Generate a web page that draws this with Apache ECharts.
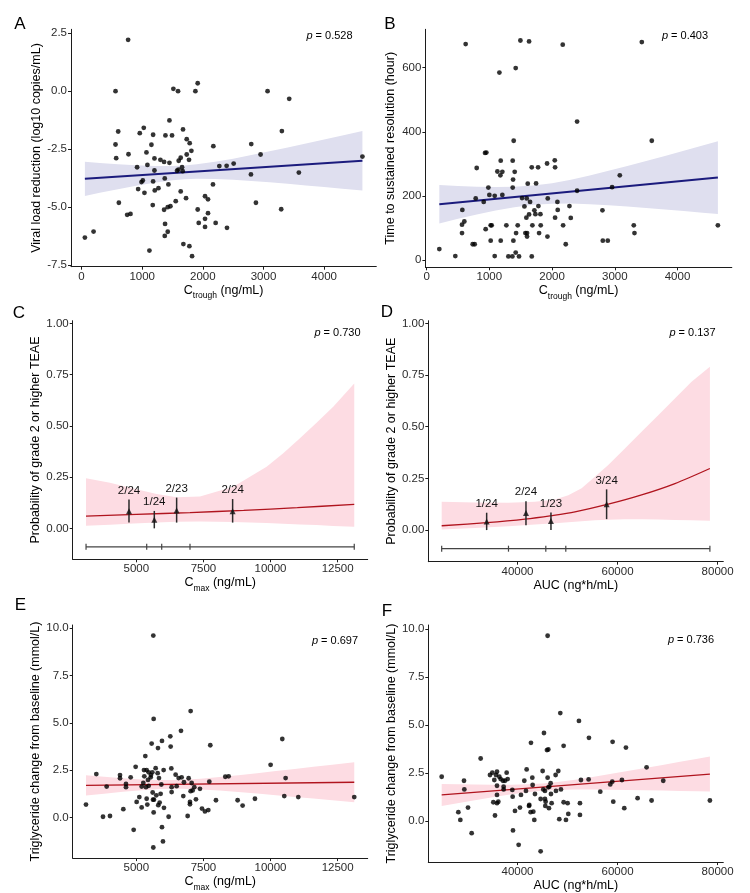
<!DOCTYPE html>
<html>
<head>
<meta charset="utf-8">
<script src="https://cdn.jsdelivr.net/npm/echarts@6/dist/echarts.min.js"></script>
<style>
html, body { margin: 0; padding: 0; background: #fff; }
#chart { width: 750px; height: 893px; }
</style>
</head>
<body>
<div id="chart"></div>
<script>
// ---- Panel A: Ctrough vs viral load reduction ----
const aCtrough = [55,198,560,560,571,604,615,774,768,752,
    807,916,933,960,988,1010,1026,1037,1070,1086,
    1119,1152,1180,1180,1174,1202,1202,1207,1268,1300,
    1361,1372,1361,1377,1372,1383,1421,1421,1432,1449,
    1449,1465,1492,1514,1553,1591,1575,1597,1602,1635,
    1635,1657,1668,1673,1679,1723,1734,1734,1772,1778,
    1783,1811,1822,1877,1915,1915,1932,2036,2036,2036,
    2085,2085,2167,2173,2211,2272,2392,2398,2508,2798,
    2793,2875,2952,3067,3292,3303,3424,3583,4631];
const aViral = [-6.31,-6.05,0.0,-2.30,-2.89,-1.74,-4.81,-2.72,2.21,-5.33,
    -5.29,-3.28,-4.22,-1.81,-3.92,-3.85,-1.58,-4.38,-2.64,-3.18,
    -6.87,-2.31,-1.88,-3.89,-4.91,-2.90,-3.42,-4.28,-4.18,-2.96,
    -3.05,-3.76,-5.11,-5.72,-6.24,-1.91,-5.00,-6.06,-4.02,-1.26,
    -3.09,-4.96,-1.91,0.10,-4.74,0.0,-3.43,-3.38,-3.00,-4.32,
    -2.87,-3.28,-3.45,-1.65,-6.59,-4.61,-2.07,-2.73,-2.96,-6.68,
    -2.24,-2.57,-7.11,0.0,0.34,-5.10,-5.68,-4.53,-5.50,-5.85,
    -4.66,-5.26,-4.02,-2.37,-5.68,-3.23,-3.22,-5.89,-3.12,-2.28,
    -3.59,-4.81,-2.73,0.0,-5.09,-1.72,-0.33,-3.51,-2.82];
const aFitX = [55, 4631];
const aFitY = [-3.78, -3.00];
const aBandX = [55, 300, 600, 900, 1200, 1500, 1700, 1900, 2200, 2500, 2800, 3100, 3400, 3700, 4000, 4300, 4631];
const aBandLo = [-4.515, -4.383, -4.227, -4.079, -3.948, -3.845, -3.800, -3.778, -3.782, -3.817, -3.869, -3.929, -3.994, -4.063, -4.132, -4.204, -4.285];
const aBandHi = [-3.045, -3.093, -3.147, -3.193, -3.222, -3.223, -3.200, -3.154, -3.046, -2.909, -2.755, -2.593, -2.426, -2.255, -2.082, -1.908, -1.715];

// ---- Panel B: Ctrough vs time to resolution ----
const bCtrough = [202,457,622,569,564,564,601,734,766,782,
    798,910,931,952,941,984,1000,1021,1037,1021,
    1085,1085,1128,1160,1176,1181,1181,1207,1207,1271,
    1303,1372,1372,1388,1378,1383,1367,1404,1420,1426,
    1420,1452,1473,1495,1521,1559,1574,1590,1596,1601,
    1601,1612,1633,1633,1649,1676,1686,1676,1718,1734,
    1745,1777,1782,1793,1814,1819,1920,1926,1931,2043,
    2048,2048,2085,2090,2170,2176,2218,2277,2298,2399,
    2399,2803,2809,2888,2957,3080,3303,3314,3431,3590,
    4644];
const bHours = [34,12,674,156,110,84,120,49,49,192,
    287,181,334,335,96,226,203,108,108,60,
    200,12,276,585,264,310,60,275,203,108,
    11,310,226,372,251,60,11,275,599,84,
    23,108,11,685,193,167,84,132,192,73,
    84,238,682,142,181,289,108,11,155,143,
    239,289,168,84,143,108,301,73,192,311,
    289,132,181,156,672,108,49,168,131,432,
    216,155,60,60,227,264,108,84,680,372,
    108];
const bFitX = [202, 4644];
const bFitY = [174, 257];
const bBandX = [202, 500, 800, 1100, 1400, 1700, 2000, 2300, 2600, 2900, 3200, 3500, 3800, 4100, 4400, 4644];
const bBandLo = [114.0, 128.3, 141.9, 154.3, 164.6, 172.0, 175.6, 175.8, 173.9, 170.6, 166.7, 162.3, 157.6, 152.7, 147.6, 143.5];
const bBandHi = [234.0, 230.9, 228.5, 227.3, 228.2, 232.0, 239.6, 250.6, 263.7, 278.2, 293.3, 308.9, 324.8, 340.9, 357.2, 370.5];

// ---- Panel C: Cmax vs grade>=2 TEAE (logistic) ----
const cFitX = [3125, 5000, 7000, 9000, 11000, 13119];
const cFitY = [0.060, 0.068, 0.077, 0.088, 0.101, 0.117];
const cBandX = [3125, 4019, 4888, 5757, 6502, 7371, 8613, 9233, 9854, 10475, 11096, 11716, 12337, 13119];
const cBandLo = [0.013, 0.018, 0.024, 0.029, 0.032, 0.033, 0.031, 0.029, 0.026, 0.023, 0.019, 0.016, 0.012, 0.008];
const cBandHi = [0.244, 0.223, 0.195, 0.168, 0.152, 0.155, 0.203, 0.252, 0.301, 0.366, 0.439, 0.515, 0.593, 0.707];
const cGroupX = [4727, 5670, 6502, 8588];
const cGroupP = [0.083, 0.042, 0.087, 0.083];
const cGroupLo = [0.028, 0.0, 0.028, 0.028];
const cGroupHi = [0.141, 0.085, 0.150, 0.143];
const cGroupLabels = ['2/24', '1/24', '2/23', '2/24'];
const cQuartiles = [3127, 5387, 5946, 7000, 13119];

// ---- Panel D: AUC vs grade>=2 TEAE (logistic) ----
const dFitX = [24849, 33840, 41499, 46827, 51489, 58149, 64809, 71469, 78462];
const dFitY = [0.021, 0.036, 0.053, 0.070, 0.088, 0.125, 0.170, 0.225, 0.298];
const dBandX = [24849, 31509, 38169, 43497, 47493, 50157, 52820, 55484, 58149, 61479, 64809, 68139, 71469, 74799, 78462];
const dBandLo = [0.003, 0.010, 0.019, 0.027, 0.033, 0.038, 0.043, 0.047, 0.050, 0.052, 0.052, 0.051, 0.049, 0.047, 0.045];
const dBandHi = [0.137, 0.134, 0.132, 0.137, 0.148, 0.169, 0.202, 0.258, 0.315, 0.395, 0.476, 0.556, 0.637, 0.718, 0.790];
const dGroupX = [33840, 41698, 46693, 57816];
const dGroupP = [0.042, 0.083, 0.0435, 0.125];
const dGroupLo = [0.0, 0.023, 0.0, 0.053];
const dGroupHi = [0.084, 0.140, 0.085, 0.197];
const dGroupLabels = ['1/24', '2/24', '1/23', '3/24'];
const dQuartiles = [24849, 38202, 45662, 49658, 78462];

// ---- Panel E: Cmax vs triglyceride change ----
const eCmax = [3125,3510,3759,3895,4019,4392,4392,4516,4615,4615,
    4789,4901,4975,5012,5112,5199,5199,5261,5286,5298,
    5335,5360,5385,5385,5410,5435,5460,5460,5534,5546,
    5571,5596,5609,5621,5633,5646,5646,5633,5658,5720,
    5745,5795,5807,5819,5844,5869,5906,5931,5956,5956,
    5993,6018,6030,6204,6266,6279,6304,6316,6316,6465,
    6502,6577,6664,6688,6750,6775,6912,6949,6999,6999,
    7024,7024,7061,7098,7160,7222,7371,7446,7557,7682,
    7719,7756,7967,8315,8439,8774,8960,9420,10003,10438,
    10512,10562,11034,13119];
const eTg = [0.69,2.30,0.05,1.64,0.09,2.25,2.08,0.45,1.78,1.61,
    2.13,-0.64,2.68,0.83,1.09,1.64,0.54,1.83,2.51,2.18,
    3.25,1.61,2.51,1.00,0.69,1.99,2.39,1.68,2.13,2.25,
    3.91,2.39,1.33,0.95,9.60,5.21,0.28,-1.57,0.95,2.61,
    1.18,2.35,3.67,0.66,2.09,0.80,1.26,1.75,4.05,-0.50,
    -1.25,2.51,0.52,0.05,4.29,3.75,2.60,1.61,1.35,2.27,
    1.66,2.09,4.58,2.13,1.14,1.87,0.09,2.08,0.83,0.71,
    5.62,1.40,1.83,1.44,1.61,0.97,1.52,0.48,0.33,0.40,
    1.90,3.82,0.92,2.16,2.18,0.92,0.64,1.00,2.79,4.15,
    1.14,2.09,1.09,1.09];
const eFitX = [3125, 13119];
const eFitY = [1.70, 1.87];
const eBandX = [3125, 3800, 4500, 5200, 5900, 6300, 6700, 7400, 8100, 8800, 9500, 10200, 10900, 11600, 12300, 13119];
const eBandLo = [1.165, 1.267, 1.366, 1.451, 1.509, 1.524, 1.523, 1.489, 1.428, 1.353, 1.270, 1.184, 1.096, 1.006, 0.916, 0.810];
const eBandHi = [2.235, 2.155, 2.080, 2.019, 1.985, 1.984, 1.999, 2.057, 2.142, 2.241, 2.346, 2.456, 2.568, 2.682, 2.796, 2.930];

// ---- Panel F: AUC vs triglyceride change ----
const fAuc = [24849,28179,28579,29311,29378,30111,30843,32641,34506,34972,
    35172,35372,35505,35705,35905,35905,35905,35905,36170,36370,
    36637,37103,37236,37236,37503,37836,38036,38968,39035,39101,
    39501,40233,40500,40699,41365,41698,41832,42298,42365,42631,
    42697,42964,43030,43163,43363,43496,44628,44628,45028,45161,
    45294,45494,45494,45561,45627,45893,46027,46027,46160,46160,
    46293,46360,46626,46693,46826,47625,47692,48158,48358,48558,
    48691,49224,49224,49690,50023,50156,52287,52487,52487,52687,
    54219,54286,56550,58548,58948,59014,59148,60880,61346,61679,
    64010,65808,66807,69138,78462];
const fTg = [2.30,0.45,0.05,2.09,1.64,0.69,-0.64,3.25,2.39,2.51,
    0.97,2.13,0.28,2.39,2.56,1.83,1.35,0.92,1.00,2.30,
    2.18,2.09,1.78,1.64,2.09,2.51,2.18,1.61,1.26,-0.50,
    0.52,-1.25,0.69,1.35,2.09,1.56,2.68,0.78,0.83,0.45,
    4.07,2.25,1.87,0.48,0.05,1.40,-1.59,1.14,2.60,1.64,
    4.58,1.56,1.14,0.78,1.00,3.69,2.25,9.65,3.72,1.75,
    0.66,1.78,1.96,1.40,0.92,2.39,1.56,2.60,0.09,5.62,
    1.64,3.91,0.97,0.05,0.92,0.36,5.21,0.92,0.31,2.13,
    2.16,4.33,1.52,1.90,2.04,4.12,1.00,2.13,0.66,3.82,
    1.18,2.79,1.06,2.09,1.06];
const fFitX = [24849, 78462];
const fFitY = [1.35, 2.44];
const fBandX = [24849, 28000, 31500, 35000, 38500, 42000, 45000, 48000, 51500, 55000, 58500, 62000, 65500, 69000, 72500, 76000, 78462];
const fBandLo = [0.780, 0.923, 1.078, 1.229, 1.371, 1.493, 1.570, 1.615, 1.635, 1.636, 1.627, 1.614, 1.598, 1.581, 1.562, 1.543, 1.530];
const fBandHi = [1.920, 1.905, 1.892, 1.883, 1.885, 1.905, 1.950, 2.027, 2.149, 2.290, 2.441, 2.596, 2.754, 2.915, 3.076, 3.237, 3.350];

// ---- ticks, labels, p values ----
const ctroughTicks = [0, 1000, 2000, 3000, 4000];
const cmaxTicks = [5000, 7500, 10000, 12500];
const aucTicks = [40000, 60000, 80000];
const viralTicks = [-7.5, -5, -2.5, 0, 2.5];
const hourTicks = [0, 200, 400, 600];
const probTicks = [0, 0.25, 0.5, 0.75, 1];
const tgTicks = [0, 2.5, 5, 7.5, 10];
const panelLetters = ['A', 'B', 'C', 'D', 'E', 'F'];
const pValues = ['0.528', '0.403', '0.730', '0.137', '0.697', '0.736'];

const FONT = '"Liberation Sans", Arial, Helvetica, sans-serif';
const INK = '#1c1c1c';
const BLUE = '#1b1b7d';
const LAVENDER = '#dfdfef';
const RED = '#b0141e';
const PINK = '#fddce3';
const QROW = -0.09;

const zip = (xs, ys) => xs.map((x, i) => [x, ys[i]]);

const nameRich = {
    n: { fontSize: 12.5, color: '#000', fontFamily: FONT, verticalAlign: 'top', lineHeight: 15 },
    s: { fontSize: 8.5, color: '#000', fontFamily: FONT, verticalAlign: 'top', lineHeight: 9, padding: [8, 0, 0, 0] }
};

function xAxisOf(i, min, max, ticks, name, gap) {
    return {
        type: 'value', gridIndex: i, min: min, max: max, z: 10,
        name: name, nameLocation: 'middle', nameGap: gap,
        nameTextStyle: { color: '#000', fontSize: 12.5, fontFamily: FONT, rich: nameRich },
        axisLine: { show: true, onZero: false, lineStyle: { color: INK, width: 1 } },
        axisTick: { show: true, length: 3, customValues: ticks, lineStyle: { color: INK } },
        axisLabel: {
            customValues: ticks, color: '#2b2b2b', fontSize: 11.5, margin: 4, fontFamily: FONT,
            formatter: (v) => String(v)
        },
        splitLine: { show: false }
    };
}

function yAxisOf(i, min, max, ticks, name, gap, digits) {
    return {
        type: 'value', gridIndex: i, min: min, max: max, z: 10,
        name: name, nameLocation: 'middle', nameGap: gap,
        nameTextStyle: { color: '#000', fontSize: 12.5, fontFamily: FONT },
        axisLine: { show: true, onZero: false, lineStyle: { color: INK, width: 1 } },
        axisTick: { show: true, length: 3, customValues: ticks, lineStyle: { color: INK } },
        axisLabel: {
            customValues: ticks, color: '#2b2b2b', fontSize: 11.5, margin: 4, fontFamily: FONT,
            formatter: (v) => Number(v).toFixed(digits)
        },
        splitLine: { show: false }
    };
}

// confidence ribbon: one polygon, upper edge then lower edge reversed
function band(i, xs, lo, hi, color) {
    return {
        type: 'custom', xAxisIndex: i, yAxisIndex: i, silent: true, z: 1,
        data: xs.map((x, k) => [x, lo[k], hi[k]]),
        encode: { x: 0, y: [1, 2] },
        renderItem: (params, api) => {
            if (params.dataIndex !== 0) return null;
            const top = xs.map((x, k) => api.coord([x, hi[k]]));
            const bottom = xs.map((x, k) => api.coord([x, lo[k]])).reverse();
            return { type: 'polygon', shape: { points: top.concat(bottom) }, style: { fill: color } };
        }
    };
}

function fit(i, xs, ys, color, width, smooth) {
    return {
        type: 'line', xAxisIndex: i, yAxisIndex: i, data: zip(xs, ys), symbol: 'none',
        smooth: smooth, silent: true, lineStyle: { color: color, width: width }, z: 3
    };
}

function dots(i, xs, ys) {
    return {
        type: 'scatter', xAxisIndex: i, yAxisIndex: i, data: zip(xs, ys),
        symbolSize: 4.8, itemStyle: { color: '#000' }, silent: true, z: 4
    };
}

function groupBars(i, xs, ps, lo, hi, labels) {
    return [
        {
            type: 'custom', xAxisIndex: i, yAxisIndex: i, silent: true, z: 5,
            data: xs.map((x, k) => [x, lo[k], hi[k]]),
            encode: { x: 0, y: [1, 2] },
            renderItem: (params, api) => {
                const a = api.coord([api.value(0), api.value(1)]);
                const b = api.coord([api.value(0), api.value(2)]);
                return {
                    type: 'group', children: [
                        { type: 'line', shape: { x1: a[0], y1: a[1], x2: b[0], y2: b[1] }, style: { stroke: '#2b2b2b', lineWidth: 1.5 } },
                        { type: 'text', x: b[0], y: b[1] - 3, style: { text: labels[params.dataIndex], align: 'center', verticalAlign: 'bottom', fontSize: 11.5, fontFamily: FONT, fill: '#111' } }
                    ]
                };
            }
        },
        {
            type: 'scatter', xAxisIndex: i, yAxisIndex: i, data: zip(xs, ps), symbol: 'triangle',
            symbolSize: 6, itemStyle: { color: '#111' }, silent: true, z: 6
        }
    ];
}

function quartileRow(i, qs) {
    return [
        {
            type: 'line', xAxisIndex: i, yAxisIndex: i, symbol: 'none', silent: true, z: 5,
            data: [[qs[0], QROW], [qs[qs.length - 1], QROW]],
            lineStyle: { color: '#444', width: 1.2 }
        },
        {
            type: 'custom', xAxisIndex: i, yAxisIndex: i, silent: true, z: 5,
            data: qs.map((q) => [q, QROW]),
            renderItem: (params, api) => {
                const p = api.coord([api.value(0), api.value(1)]);
                return { type: 'line', shape: { x1: p[0], y1: p[1] - 3, x2: p[0], y2: p[1] + 3 }, style: { stroke: '#444', lineWidth: 1.2 } };
            }
        }
    ];
}

const grids = [
    { left: 71, top: 29.3, width: 305.3, height: 237.4 },
    { left: 425.4, top: 29.3, width: 306.4, height: 238 },
    { left: 72.7, top: 320.7, width: 295, height: 238.6 },
    { left: 428.3, top: 320.7, width: 295, height: 241 },
    { left: 72.7, top: 625, width: 295, height: 237.7 },
    { left: 428.3, top: 625, width: 295, height: 237.7 }
];

const letterPos = [[20, 24], [390, 24], [19, 313], [387, 312.5], [20.5, 605], [387, 611]];
const pPos = [[329.5, 35.7], [685, 35.7], [337.5, 332.7], [692.5, 332.7], [335, 640.7], [691, 640]];

const graphics = [];
panelLetters.forEach((t, k) => {
    graphics.push({
        type: 'text', x: letterPos[k][0], y: letterPos[k][1], silent: true,
        style: { text: t, fontSize: 17, fontFamily: FONT, fill: '#000', align: 'center', verticalAlign: 'middle' }
    });
});
pValues.forEach((v, k) => {
    graphics.push({
        type: 'text', x: pPos[k][0], y: pPos[k][1], silent: true,
        style: {
            text: '{i|p} = ' + v, fontSize: 11, fontFamily: FONT, fill: '#000', align: 'center', verticalAlign: 'middle',
            rich: { i: { fontStyle: 'italic', fontSize: 11, fontFamily: FONT, fill: '#000' } }
        }
    });
});

const option = {
    animation: false,
    backgroundColor: '#fff',
    textStyle: { fontFamily: FONT },
    grid: grids,
    graphic: graphics,
    xAxis: [
        xAxisOf(0, -174, 4860, ctroughTicks, '{n|C}{s|trough}{n| (ng/mL)}', 15),
        xAxisOf(1, -20, 4866, ctroughTicks, '{n|C}{s|trough}{n| (ng/mL)}', 15),
        xAxisOf(2, 2630, 13620, cmaxTicks, '{n|C}{s|max}{n| (ng/mL)}', 16),
        xAxisOf(3, 22175, 81140, aucTicks, '{n|AUC (ng*h/mL)}', 16),
        xAxisOf(4, 2630, 13620, cmaxTicks, '{n|C}{s|max}{n| (ng/mL)}', 15),
        xAxisOf(5, 22175, 81140, aucTicks, '{n|AUC (ng*h/mL)}', 15)
    ],
    yAxis: [
        yAxisOf(0, -7.565, 2.665, viralTicks, 'Viral load reduction (log10 copies/mL)', 28, 1),
        yAxisOf(1, -23, 720, hourTicks, 'Time to sustained resolution (hour)', 28, 0),
        yAxisOf(2, -0.151, 1.013, probTicks, 'Probability of grade 2 or higher TEAE', 27, 2),
        yAxisOf(3, -0.153, 1.013, probTicks, 'Probability of grade 2 or higher TEAE', 30, 2),
        yAxisOf(4, -2.13, 10.16, tgTicks, 'Triglyceride change from baseline (mmol/L)', 30, 1),
        yAxisOf(5, -2.15, 10.21, tgTicks, 'Triglyceride change from baseline (mmol/L)', 30, 1)
    ],
    series: [].concat(
        band(0, aBandX, aBandLo, aBandHi, LAVENDER),
        fit(0, aFitX, aFitY, BLUE, 2, false),
        dots(0, aCtrough, aViral),

        band(1, bBandX, bBandLo, bBandHi, LAVENDER),
        fit(1, bFitX, bFitY, BLUE, 2, false),
        dots(1, bCtrough, bHours),

        band(2, cBandX, cBandLo, cBandHi, PINK),
        fit(2, cFitX, cFitY, RED, 1.3, 0.3),
        groupBars(2, cGroupX, cGroupP, cGroupLo, cGroupHi, cGroupLabels),
        quartileRow(2, cQuartiles),

        band(3, dBandX, dBandLo, dBandHi, PINK),
        fit(3, dFitX, dFitY, RED, 1.3, 0.3),
        groupBars(3, dGroupX, dGroupP, dGroupLo, dGroupHi, dGroupLabels),
        quartileRow(3, dQuartiles),

        band(4, eBandX, eBandLo, eBandHi, PINK),
        fit(4, eFitX, eFitY, RED, 1.3, false),
        dots(4, eCmax, eTg),

        band(5, fBandX, fBandLo, fBandHi, PINK),
        fit(5, fFitX, fFitY, RED, 1.3, false),
        dots(5, fAuc, fTg)
    )
};

const chart = echarts.init(document.getElementById('chart'), null, { renderer: 'canvas' });
chart.setOption(option);
window.addEventListener('resize', () => chart.resize());
</script>
</body>
</html>
